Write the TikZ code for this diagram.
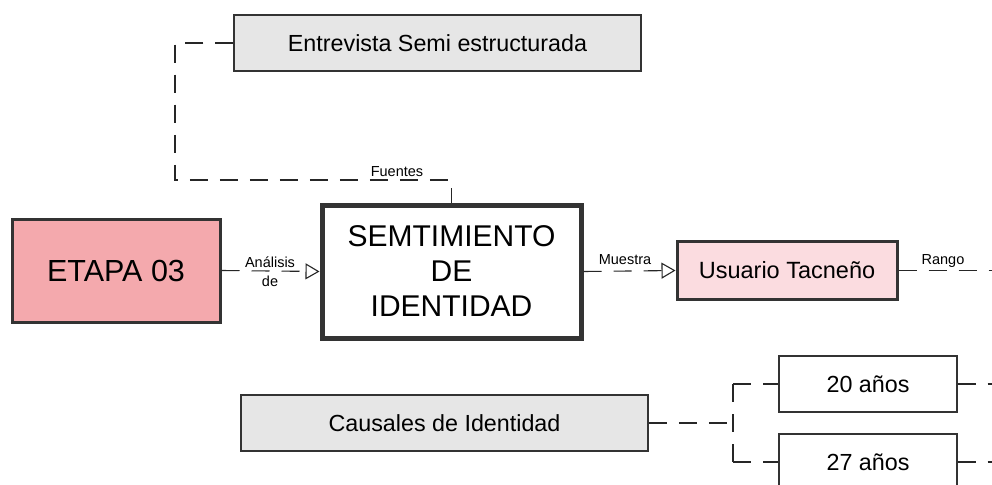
\documentclass[tikz,border=0pt]{standalone}
\usepackage{fontspec}
\setmainfont{Liberation Sans}
\usetikzlibrary{arrows.meta}
\definecolor{boxgray}{HTML}{E6E6E6}
\definecolor{etapapink}{HTML}{F4A9AD}
\definecolor{userpink}{HTML}{FBDCE0}
\definecolor{edge}{HTML}{333333}
\tikzset{
  box/.style={draw=edge, inner sep=0pt, align=center, text=black},
  conn/.style={draw=black!85, line width=1.1pt, dash pattern=on 18pt off 12pt},
  openarrow/.style={-{Triangle[open, length=14pt, width=16pt, line width=1.1pt]}},
  lbl/.style={font=\fontsize{14.5}{15}\selectfont, inner sep=0pt},
}
\begin{document}
\begin{tikzpicture}[x=1pt, y=-1pt]
\useasboundingbox (0,0) rectangle (992,484);
\clip (0,0) rectangle (992,484);
\fill[white] (0,0) rectangle (992,484);

% nodes
\node[box, fill=boxgray, line width=1.5pt, minimum width=407pt, minimum height=56pt,
      font=\fontsize{23.3}{26}\selectfont] (entre) at (437.5,43) {Entrevista Semi estructurada};
\node[box, fill=etapapink, line width=3pt, minimum width=208pt, minimum height=103pt,
      font=\fontsize{30.5}{33}\selectfont] (etapa) at (116,270.5) {ETAPA 03};
\node[box, fill=white, line width=5pt, minimum width=259pt, minimum height=133pt,
      font=\fontsize{30}{35}\selectfont] (semt) at (451.5,271.5) {SEMTIMIENTO\\DE\\IDENTIDAD};
\node[box, fill=userpink, line width=3pt, minimum width=220pt, minimum height=58pt,
      font=\fontsize{23.5}{26}\selectfont] (usu) at (787,270.5) {Usuario Tacneño};
\node[box, fill=boxgray, line width=1.5pt, minimum width=407pt, minimum height=56pt,
      font=\fontsize{23.3}{26}\selectfont] (caus) at (444.5,423) {Causales de Identidad};
\node[box, fill=white, line width=1.3pt, minimum width=178pt, minimum height=56pt,
      font=\fontsize{23.3}{26}\selectfont] (a20) at (868,384) {20 años};
\node[box, fill=white, line width=1.3pt, minimum width=178pt, minimum height=56pt,
      font=\fontsize{23.3}{26}\selectfont] (a27) at (868,462) {27 años};

% helper coordinates
\coordinate (f1) at (175,43);
\coordinate (f2) at (175,180);
\coordinate (f3) at (451.5,180);
\coordinate (rEnd) at (992,270.5);
\coordinate (br) at (733,423);
\coordinate (bTop) at (733,384);
\coordinate (bBot) at (733,462);
\coordinate (e20) at (992,384);
\coordinate (e27) at (992,462);

% connectors
\draw[conn] (entre.west) -- (f1) -- (f2) -- (f3) -- (semt.north);
\node[lbl, anchor=base] (lfu) at (397,176) {Fuentes};

\draw[conn, openarrow] (etapa.east) -- (semt.west);
\node[lbl, anchor=base] (lan) at (270,267) {Análisis};
\node[lbl, anchor=base] (lde) at (270,286) {de};

\draw[conn, openarrow] (semt.east) -- (usu.west);
\node[lbl, anchor=base] (lmu) at (625,264) {Muestra};

\draw[conn] (usu.east) -- (rEnd);
\node[lbl, anchor=base] (lra) at (943,264) {Rango};

\draw[conn] (caus.east) -- (br);
\draw[conn] (bTop) -- (bBot);
\draw[conn] (bTop) -- (a20.west);
\draw[conn] (bBot) -- (a27.west);
\draw[conn] (a20.east) -- (e20);
\draw[conn] (a27.east) -- (e27);
\end{tikzpicture}
\end{document}
